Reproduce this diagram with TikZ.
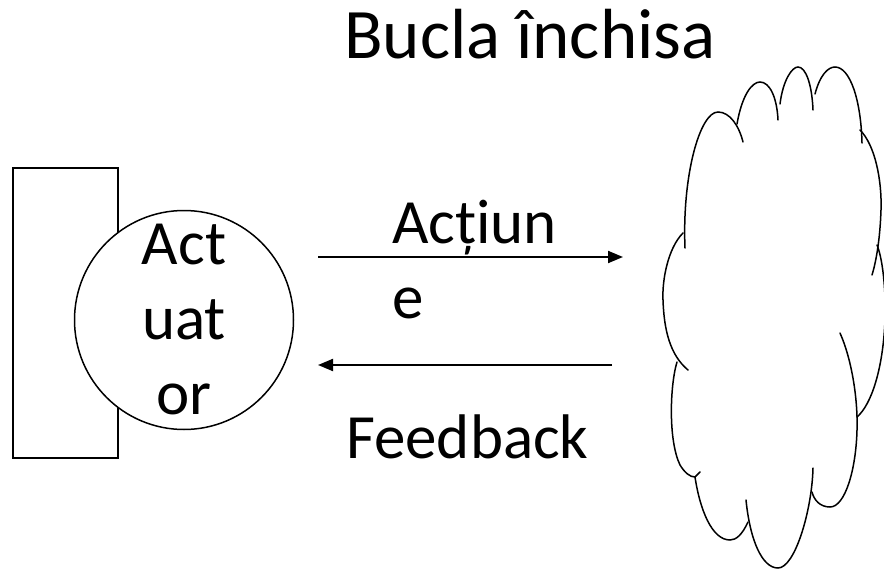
\documentclass[tikz,border=0pt]{standalone}
\usepackage{fontspec}
\setmainfont{Carlito}
\usetikzlibrary{arrows.meta}
\begin{document}
\begin{tikzpicture}[x=1pt,y=-1pt,
  lbl/.style={inner sep=0pt,anchor=base west,font=\fontsize{63}{75}\selectfont},
  shp/.style={draw=black,line width=1.5pt},
  arr/.style={draw=black,line width=2pt,-{Triangle[length=15pt,width=12pt]}}]
\useasboundingbox (0,0) rectangle (884,570);
% title
\node[lbl,font=\fontsize{71}{80}\selectfont] (title) at (344,58) {Bucla închisa};
% actuator
\node[shp,rectangle,minimum width=105pt,minimum height=290pt,inner sep=0pt,anchor=north west] (box) at (12,167) {};
\node[shp,circle,fill=white,minimum size=219pt,inner sep=0pt] (act) at (184,320) {};
\node[inner sep=0pt,align=center,font=\fontsize{63}{75}\selectfont] (actlbl) at (act.center) {Act\\uat\\or};
% arrows
\coordinate (a1) at (318,257);
\coordinate (a2) at (623,257);
\coordinate (f1) at (612,365);
\coordinate (f2) at (318,365);
\draw[arr] (a1) -- (a2);
\draw[arr] (f1) -- (f2);
\node[lbl] (act1) at (392,243) {Acțiun};
\node[lbl] (act2) at (392,318) {e};
\node[lbl] (fb) at (346,458) {Feedback};
% cloud
\begin{scope}[line width=1.5pt,line cap=round]
\draw (685,248) .. controls (682,175) and (700,112) .. (718,112) .. controls (730,112) and (739,126) .. (743,142);
\draw (737,124) .. controls (742,95) and (752,82) .. (760,82) .. controls (770,82) and (777,98) .. (778,120);
\draw (780,104) .. controls (783,80) and (792,67) .. (798,67) .. controls (806,67) and (812,85) .. (813,110);
\draw (815,94) .. controls (820,75) and (828,67) .. (835,67) .. controls (850,67) and (861,100) .. (862,143);
\draw (860,130) .. controls (875,145) and (882,180) .. (881,210) .. controls (880,240) and (876,262) .. (872,275);
\draw (877,245) .. controls (884,262) and (886,300) .. (885,320) .. controls (883,370) and (871,405) .. (857,417);
\draw (840,333) .. controls (852,360) and (858,400) .. (857,430) .. controls (856,470) and (845,507) .. (830,507) .. controls (820,507) and (814,500) .. (812,492);
\draw (813,468) .. controls (812,510) and (795,568) .. (778,568) .. controls (762,568) and (750,540) .. (746,500);
\draw (748,522) .. controls (742,535) and (736,540) .. (730,540) .. controls (712,540) and (700,510) .. (695,477) -- (700,472);
\draw (677,362) .. controls (670,385) and (668,440) .. (680,465) .. controls (685,473) and (690,477) .. (695,477);
\draw (683,233) .. controls (668,248) and (662,280) .. (663,300) .. controls (664,330) and (670,355) .. (688,370);
\end{scope}
\end{tikzpicture}
\end{document}
